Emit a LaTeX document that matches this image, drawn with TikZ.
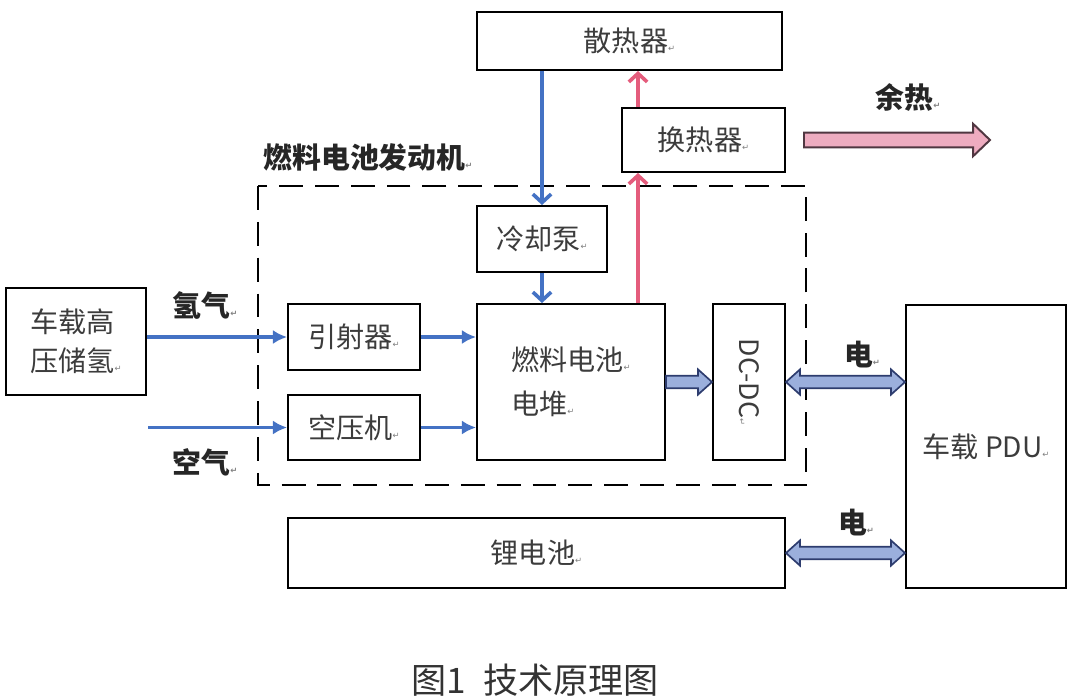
\documentclass[tikz,border=0pt]{standalone}
\usepackage{fontspec}
\setmainfont{Noto Sans CJK SC}
\newfontfamily\retfont{DejaVu Sans}
\usetikzlibrary{arrows.meta,calc}

\definecolor{coolant}{RGB}{68,114,196}
\definecolor{heat}{RGB}{228,92,124}
\definecolor{elecfill}{RGB}{155,175,220}
\definecolor{elecline}{RGB}{45,60,110}
\definecolor{wastefill}{RGB}{238,172,192}
\definecolor{wasteline}{RGB}{80,55,65}
\definecolor{labelgray}{RGB}{60,60,60}

\newcommand{\unitpx}{0.25mm}
\newcommand{\ret}{{\retfont\fontsize{6}{6}\selectfont\textcolor{gray}{↵}}}

% fat block arrows: style, from, to, shaft half, head half, head length
\newcommand{\fatone}[6]{%
  \filldraw[#1] let \p1=#2, \p2=#3 in
    (\x1,\y1+#4) -- (\x2-#6,\y1+#4) -- (\x2-#6,\y1+#5) -- (\x2,\y1)
    -- (\x2-#6,\y1-#5) -- (\x2-#6,\y1-#4) -- (\x1,\y1-#4) -- cycle;}
\newcommand{\fattwo}[6]{%
  \filldraw[#1] let \p1=#2, \p2=#3 in
    (\x1,\y1) -- (\x1+#6,\y1+#5) -- (\x1+#6,\y1+#4) -- (\x2-#6,\y1+#4)
    -- (\x2-#6,\y1+#5) -- (\x2,\y1) -- (\x2-#6,\y1-#5) -- (\x2-#6,\y1-#4)
    -- (\x1+#6,\y1-#4) -- (\x1+#6,\y1-#5) -- cycle;}

\begin{document}
\begin{tikzpicture}[x=0.25mm, y=-0.25mm,
  box/.style={draw, line width=1.4pt, inner sep=0pt, text=labelgray,
    font=\fontsize{20}{31}\selectfont},
  tag/.style={font=\bfseries\fontsize{20.5}{24}\selectfont, text=black!85},
  coolflow/.style={coolant, line width=2.6pt, -{Latex[length=10pt,width=10pt]}},
  coolriser/.style={coolant, line width=2.6pt, -{Straight Barb[length=6pt,width=13pt]}},
  heatriser/.style={heat, line width=2.6pt, -{Straight Barb[length=6pt,width=13pt]}},
  elec/.style={fill=elecfill, draw=elecline, line width=1.2pt},
  waste/.style={fill=wastefill, draw=wasteline, line width=1.4pt}]

  \useasboundingbox (0,0) rectangle (1080,698);

  % cooling loop on top
  \node[box, minimum width=305*\unitpx, minimum height=58*\unitpx] (rad) at (629.5,41) {散热器\ret};
  \node[box, minimum width=163*\unitpx, minimum height=64*\unitpx] (hex) at (703.5,140) {换热器\ret};
  \node[tag] (wastetag) at (908,97) {余热\ret};
  \coordinate (heatout) at (990,140);
  \coordinate (hx) at (638,0);

  % fuel cell engine
  \draw[line width=1.6pt, dash pattern=on 17pt off 8.5pt] (258,186) rectangle (806,485);
  \node[tag] (enginetag) at (368,157) {燃料电池发动机\ret};
  \node[box, minimum width=130*\unitpx, minimum height=66*\unitpx] (pump) at (542,239) {冷却泵\ret};
  \node[box, minimum width=188*\unitpx, minimum height=156*\unitpx, align=left] (stack) at (571,382)
    {燃料电池\ret\\电堆\ret};
  \node[box, minimum width=72*\unitpx, minimum height=156*\unitpx] (dcdc) at (749,382) {};
  \node[rotate=-90, text=labelgray, font=\fontsize{19}{22}\selectfont] (dcdctext) at (dcdc) {DC-DC\ret};
  \node[box, minimum width=132*\unitpx, minimum height=66*\unitpx] (ejector) at (354,337) {引射器\ret};
  \node[box, minimum width=132*\unitpx, minimum height=65*\unitpx] (comp) at (354,427.5) {空压机\ret};

  % outside the engine
  \node[box, minimum width=140*\unitpx, minimum height=107*\unitpx, align=left,
    font=\fontsize{20}{28}\selectfont] (tank) at (76,341.5) {车载高\\压储氢\ret};
  \node[box, minimum width=160*\unitpx, minimum height=283*\unitpx] (pdu) at (986,446.5) {车载 PDU\ret};
  \node[box, minimum width=497*\unitpx, minimum height=70*\unitpx] (batt) at (536.5,553) {锂电池\ret};
  \coordinate (airin) at (148,427.5);

  \node[tag] (h2tag) at (205,305) {氢气\ret};
  \node[tag] (airtag) at (205,462) {空气\ret};
  \node[tag] (electag1) at (862,355) {电\ret};
  \node[tag] (electag2) at (856,523) {电\ret};

  % gas feed
  \draw[coolflow] (tank.east |- ejector.west) -- (ejector.west);
  \draw[coolflow] (airin) -- (comp.west);
  \draw[coolflow] (ejector.east) -- (stack.west |- ejector.east);
  \draw[coolflow] (comp.east) -- (stack.west |- comp.east);

  % coolant and heat
  \draw[coolriser] (rad.south -| pump.north) -- (pump.north);
  \draw[coolriser] (pump.south) -- (stack.north -| pump.south);
  \draw[heatriser] (stack.north -| hx) -- (hex.south -| hx);
  \draw[heatriser] (hex.north -| hx) -- (rad.south -| hx);
  \fatone{waste}{([xshift=18*\unitpx]hex.east)}{(heatout)}{5.3pt}{11.5pt}{12pt}

  % power
  \fatone{elec}{(stack.east)}{(dcdc.west |- stack.east)}{4.5pt}{9pt}{10pt}
  \fattwo{elec}{(dcdc.east)}{(pdu.west |- dcdc.east)}{4.5pt}{9pt}{10pt}
  \fattwo{elec}{(batt.east)}{(pdu.west |- batt.east)}{4.5pt}{9pt}{10pt}

  \node[font=\fontsize{25}{28}\selectfont, text=black!80] (caption) at (535,680) {图1\hspace{0.5em}技术原理图};

\end{tikzpicture}
\end{document}
